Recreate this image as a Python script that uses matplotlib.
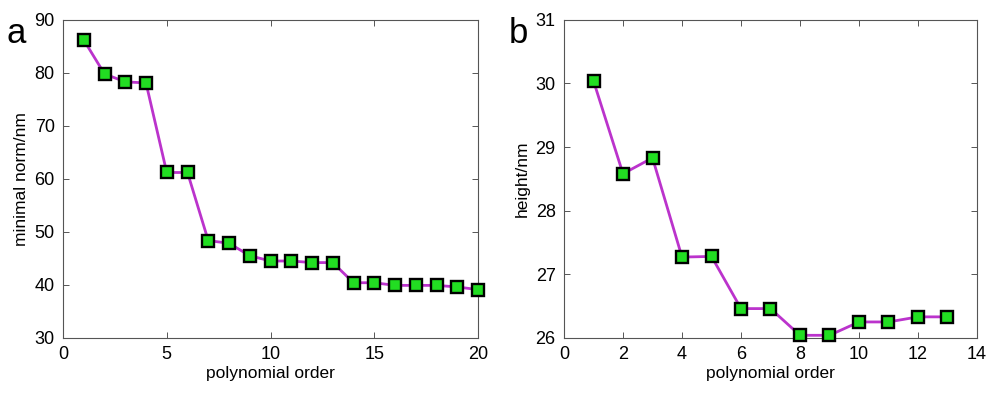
import matplotlib

matplotlib.use("Agg")
import matplotlib.pyplot as plt

# panel a: minimal norm vs polynomial order
order_a = list(range(1, 21))
norm_a = [86.2, 79.8, 78.3, 78.1, 61.2, 61.2, 48.35, 47.85, 45.5, 44.5,
          44.5, 44.2, 44.2, 40.4, 40.4, 39.9, 39.9, 39.9, 39.6, 39.1]

# panel b: height vs polynomial order
order_b = list(range(1, 14))
height_b = [30.04, 28.58, 28.83, 27.27, 27.28, 26.46, 26.46, 26.04, 26.04,
            26.25, 26.25, 26.33, 26.33]

LINE = "#BB33CC"
FACE = "#22DD22"

plt.rcParams.update({
    "font.family": ["Liberation Sans", "DejaVu Sans"],
    "font.size": 12,
    "xtick.direction": "in",
    "ytick.direction": "in",
    "xtick.top": True,
    "ytick.right": True,
    "axes.edgecolor": "#555555",
    "axes.linewidth": 0.8,
})


def panel(ax, x, y, xlim, ylim, xticks, yticks, ylabel, letter):
    ax.plot(x, y, color=LINE, lw=2.0, marker="s", ms=9.2,
            mfc=FACE, mec="black", mew=1.7, clip_on=False, zorder=3)
    ax.set_xlim(xlim)
    ax.set_ylim(ylim)
    ax.set_xticks(xticks)
    ax.set_yticks(yticks)
    ax.tick_params(length=4, width=0.7, color="#555555", labelsize=13, pad=6)
    ax.set_xlabel("polynomial order", fontsize=12.5, labelpad=2)
    ax.set_ylabel(ylabel, fontsize=12.5, labelpad=4)
    ax.text(-0.135, 1.01, letter, transform=ax.transAxes, fontsize=25,
            ha="left", va="top")


fig = plt.figure(figsize=(10, 3.97), dpi=100)
ax_a = fig.add_axes([0.063, 0.149, 0.415, 0.801])
ax_b = fig.add_axes([0.564, 0.149, 0.413, 0.801])

panel(ax_a, order_a, norm_a, (0, 20), (30, 90), range(0, 21, 5),
      range(30, 91, 10), "minimal norm/nm", "a")
panel(ax_b, order_b, height_b, (0, 14), (26, 31), range(0, 15, 2),
      range(26, 32), "height/nm", "b")

fig.savefig("out.png", dpi=100)
